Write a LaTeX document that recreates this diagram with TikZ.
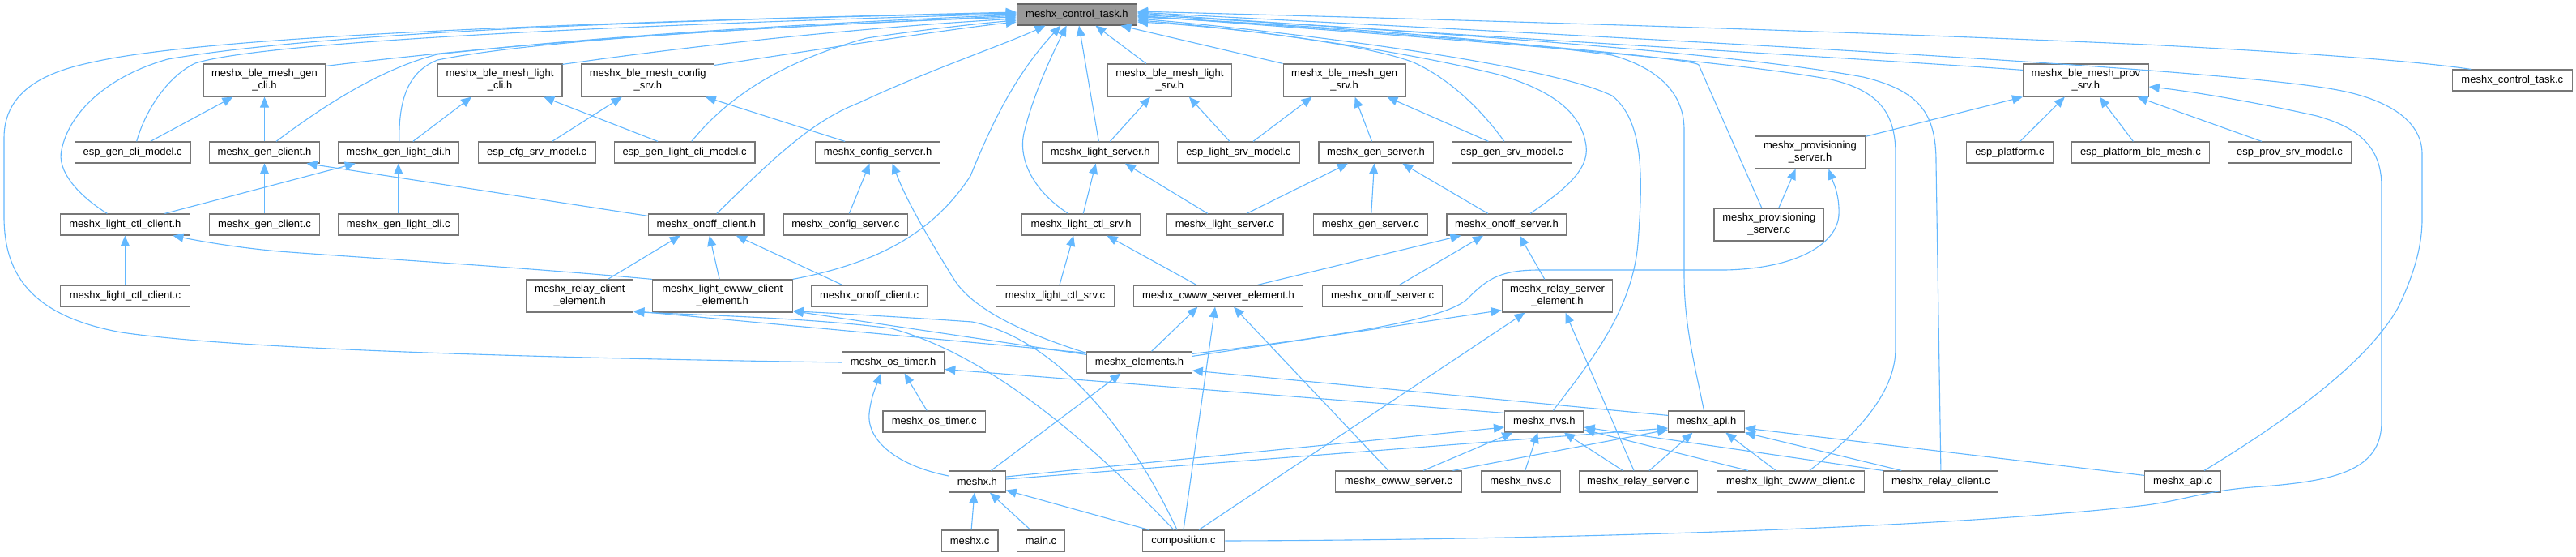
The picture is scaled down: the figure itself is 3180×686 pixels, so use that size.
\documentclass[tikz,border=0pt]{standalone}
\usepackage{fontspec}
\setmainfont{Liberation Sans}
\usetikzlibrary{arrows.meta}
\definecolor{edgeblue}{HTML}{63B8FF}
\definecolor{boxgray}{HTML}{777777}
\definecolor{ctfill}{HTML}{999999}
\tikzset{
  box/.style={draw=boxgray, line width=1.2pt, fill=white, inner sep=0pt, align=center,
    font=\fontsize{13}{15}\selectfont, minimum height=26pt},
  tall/.style={minimum height=40pt},
  dep/.style={draw=edgeblue, line width=1.1pt, -{Triangle[length=13pt,width=11pt]}},
}
\begin{document}
\begin{tikzpicture}[x=1pt,y=-1pt]
\fill[white] (0,0) rectangle (3180,686);
\useasboundingbox (0,0) rectangle (3180,686);
% ---------- nodes ----------
\node[box,fill=ctfill,draw=black!60,minimum width=148pt] (ct) at (1329.4,18) {meshx\_control\_task.h};
\node[box,tall,minimum width=151pt] (bgc) at (326.5,99) {meshx\_ble\_mesh\_gen\\\_cli.h};
\node[box,tall,minimum width=153.6pt] (blc) at (617.1,99) {meshx\_ble\_mesh\_light\\\_cli.h};
\node[box,tall,minimum width=163.6pt] (bcs) at (799.8,99) {meshx\_ble\_mesh\_config\\\_srv.h};
\node[box,tall,minimum width=153.9pt] (bls) at (1443.9,99) {meshx\_ble\_mesh\_light\\\_srv.h};
\node[box,tall,minimum width=150.8pt] (bgs) at (1659.6,99) {meshx\_ble\_mesh\_gen\\\_srv.h};
\node[box,tall,minimum width=154.6pt] (bps) at (2574.8,99) {meshx\_ble\_mesh\_prov\\\_srv.h};
\node[box,minimum width=148.1pt] (ctc) at (3101.3,99) {meshx\_control\_task.c};
% layer 2
\node[box,minimum width=143pt] (egcm) at (163.7,188) {esp\_gen\_cli\_model.c};
\node[box,minimum width=135.7pt] (gch) at (326.5,188) {meshx\_gen\_client.h};
\node[box,minimum width=148.8pt] (glch) at (491.8,188) {meshx\_gen\_light\_cli.h};
\node[box,minimum width=144.6pt] (ecsm) at (662.6,188) {esp\_cfg\_srv\_model.c};
\node[box,minimum width=173.6pt] (eglcm) at (845.1,188) {esp\_gen\_light\_cli\_model.c};
\node[box,minimum width=154pt] (csh) at (1083.6,188) {meshx\_config\_server.h};
\node[box,minimum width=144pt] (lsh) at (1358.3,188) {meshx\_light\_server.h};
\node[box,minimum width=150.9pt] (elsm) at (1529,188) {esp\_light\_srv\_model.c};
\node[box,minimum width=141.2pt] (gsh) at (1698.5,188) {meshx\_gen\_server.h};
\node[box,minimum width=147.7pt] (egsm) at (1866.4,188) {esp\_gen\_srv\_model.c};
\node[box,tall,minimum width=135.4pt] (psh) at (2234.5,188) {meshx\_provisioning\\\_server.h};
\node[box,minimum width=106.8pt] (ep) at (2480.9,188) {esp\_platform.c};
\node[box,minimum width=170pt] (epbm) at (2642.4,188) {esp\_platform\_ble\_mesh.c};
\node[box,minimum width=151.5pt] (epsm) at (2826.5,188) {esp\_prov\_srv\_model.c};
% layer 3
\node[box,minimum width=159.5pt] (lcch) at (154.4,277) {meshx\_light\_ctl\_client.h};
\node[box,minimum width=135.7pt] (gcc) at (326.5,277) {meshx\_gen\_client.c};
\node[box,minimum width=148.8pt] (glcc) at (491.8,277) {meshx\_gen\_light\_cli.c};
\node[box,minimum width=142.2pt] (och) at (871.8,277) {meshx\_onoff\_client.h};
\node[box,minimum width=153.6pt] (csc) at (1043.8,277) {meshx\_config\_server.c};
\node[box,minimum width=146.4pt] (lcsh) at (1334.7,277) {meshx\_light\_ctl\_srv.h};
\node[box,minimum width=144pt] (lsc) at (1511.9,277) {meshx\_light\_server.c};
\node[box,minimum width=140.9pt] (gsc) at (1691.8,277) {meshx\_gen\_server.c};
\node[box,minimum width=147.7pt] (osh) at (1859.9,277) {meshx\_onoff\_server.h};
\node[box,tall,minimum width=135.7pt] (psc) at (2183.8,277) {meshx\_provisioning\\\_server.c};
% layer 4
\node[box,minimum width=159.5pt] (lccc) at (154.4,365) {meshx\_light\_ctl\_client.c};
\node[box,tall,minimum width=131.9pt] (rce) at (715.8,365) {meshx\_relay\_client\\\_element.h};
\node[box,tall,minimum width=172.6pt] (lcwce) at (891.8,365) {meshx\_light\_cwww\_client\\\_element.h};
\node[box,minimum width=142.6pt] (occ) at (1073.1,365) {meshx\_onoff\_client.c};
\node[box,minimum width=146.7pt] (lcsc) at (1302.5,365) {meshx\_light\_ctl\_srv.c};
\node[box,minimum width=209.7pt] (cwse) at (1504,365) {meshx\_cwww\_server\_element.h};
\node[box,minimum width=147.7pt] (osc) at (1706.6,365) {meshx\_onoff\_server.c};
\node[box,tall,minimum width=136.7pt] (rse) at (1922.5,365) {meshx\_relay\_server\\\_element.h};
% layer 5
\node[box,minimum width=126.3pt] (oth) at (1102.6,447) {meshx\_os\_timer.h};
\node[box,minimum width=129.5pt] (elh) at (1406.5,447) {meshx\_elements.h};
% layer 6
\node[box,minimum width=126.4pt] (otc) at (1153.2,520) {meshx\_os\_timer.c};
\node[box,minimum width=97.5pt] (nvsh) at (1906.3,520) {meshx\_nvs.h};
\node[box,minimum width=93.7pt] (apih) at (2106.5,520) {meshx\_api.h};
% layer 7
\node[box,minimum width=69.6pt] (mh) at (1206.4,594) {meshx.h};
\node[box,minimum width=156.4pt] (cwsc) at (1726.4,594) {meshx\_cwww\_server.c};
\node[box,minimum width=97.8pt] (nvsc) at (1877.2,594) {meshx\_nvs.c};
\node[box,minimum width=146.4pt] (rsc) at (2022.4,594) {meshx\_relay\_server.c};
\node[box,minimum width=182.5pt] (lcwc) at (2210.6,594) {meshx\_light\_cwww\_client.c};
\node[box,minimum width=141.9pt] (rcc) at (2395.9,594) {meshx\_relay\_client.c};
\node[box,minimum width=93.7pt] (apic) at (2694.5,594) {meshx\_api.c};
% layer 8
\node[box,minimum width=69.6pt] (mc) at (1197.1,667) {meshx.c};
\node[box,minimum width=59.6pt] (main) at (1285,667) {main.c};
\node[box,minimum width=101.6pt] (comp) at (1461,667) {composition.c};
% ---------- edges: straight ----------
\draw[dep] ([xshift=22pt]egcm.north) -- ([xshift=-39pt]bgc.south);
\draw[dep] (gch.north) -- (bgc.south);
\draw[dep] (gcc.north) -- (gch.south);
\draw[dep] ([yshift=-3pt]och.north west) -- ([xshift=52pt]gch.south);
\draw[dep] ([xshift=18pt]glch.north) -- ([xshift=-35pt]blc.south);
\draw[dep] (glcc.north) -- (glch.south);
\draw[dep] ([xshift=49pt]lcch.north) -- ([xshift=-53pt]glch.south);
\draw[dep] (lccc.north) -- (lcch.south);
\draw[dep] ([xshift=19pt]ecsm.north) -- ([xshift=-32pt]bcs.south);
\draw[dep] ([xshift=-33pt]eglcm.north) -- ([xshift=54pt]blc.south);
\draw[dep] ([xshift=-40.5pt]csh.north) -- ([xshift=71pt]bcs.south);
\draw[dep] ([xshift=4.5pt]csc.north) -- ([xshift=-10pt]csh.south);
\draw[dep] ([yshift=-2pt]elh.north west) .. controls (1260,410) and (1200,380) .. (1178,345) .. controls (1150,300) and (1120,250) .. ([xshift=18pt]csh.south);
\draw[dep] ([xshift=34.6pt]rce.north) -- ([xshift=-32pt]och.south);
\draw[dep] ([xshift=-3.6pt]lcwce.north) -- ([xshift=4pt]och.south);
\draw[dep] ([xshift=-33.4pt]occ.north) -- ([xshift=37pt]och.south);
\draw[dep] (lcwce.north west) .. controls (650,330) and (450,318) .. (344,310) .. controls (290,305) and (250,298) .. ([xshift=59pt]lcch.south);
\draw[dep] ([xshift=12pt]lsh.north) -- ([xshift=-24pt]bls.south);
\draw[dep] ([xshift=-11pt]elsm.north) -- ([xshift=24pt]bls.south);
\draw[dep] ([xshift=18pt]elsm.north) -- ([xshift=-40pt]bgs.south);
\draw[dep] ([xshift=-5pt]gsh.north) -- ([xshift=13pt]bgs.south);
\draw[dep] ([xshift=-29pt]egsm.north) -- ([xshift=52.7pt]bgs.south);
\draw[dep] ([xshift=2.5pt]lcsh.north) -- ([xshift=-5.6pt]lsh.south);
\draw[dep] ([xshift=-21pt]lsc.north) -- ([xshift=30.6pt]lsh.south);
\draw[dep] ([xshift=27pt]lsc.north) -- ([xshift=-34.5pt]gsh.south);
\draw[dep] ([xshift=1pt]gsc.north) -- ([xshift=-2pt]gsh.south);
\draw[dep] ([xshift=-23pt]osh.north) -- ([xshift=32.7pt]gsh.south);
\draw[dep] ([xshift=5.5pt]lcsc.north) -- ([xshift=-9.5pt]lcsh.south);
\draw[dep] ([xshift=-27pt]cwse.north) -- ([xshift=31.8pt]lcsh.south);
\draw[dep] ([xshift=48.5pt]cwse.north) -- ([xshift=-56.4pt]osh.south);
\draw[dep] ([xshift=21pt]osc.north) -- ([xshift=-28.8pt]osh.south);
\draw[dep] ([xshift=-15.7pt]rse.north) -- ([xshift=16pt]osh.south);
\draw[dep] ([xshift=12pt]psc.north) -- ([xshift=-18pt]psh.south);
\draw[dep] ([yshift=-1pt]psh.north east) -- (bps.south west);
\draw[dep] ([xshift=12.8pt]ep.north) -- ([xshift=-26pt]bps.south);
\draw[dep] ([xshift=-9pt]epbm.north) -- ([xshift=17pt]bps.south);
\draw[dep] ([xshift=-34.5pt]epsm.north) -- ([xshift=63.5pt]bps.south);
\draw[dep] ([xshift=-9pt]otc.north) -- ([xshift=14pt]oth.south);
\draw[dep] ([yshift=7pt]mh.west) .. controls (1110,575) and (1070,545) .. (1073,510) .. controls (1075,490) and (1082,475) .. ([xshift=-15pt]oth.south);
\draw[dep] ([yshift=-3pt]nvsh.north west) -- ([yshift=-8.5pt]oth.east);
\draw[dep] ([yshift=-6pt]apih.north west) -- ([yshift=-10pt]elh.east);
\draw[dep] ([xshift=17pt]mh.north) -- ([xshift=-23pt]elh.south);
\draw[dep] ([xshift=2pt]mc.north) -- ([xshift=-3.5pt]mh.south);
\draw[dep] ([xshift=-13pt]main.north) -- ([xshift=15.5pt]mh.south);
\draw[dep] ([xshift=-43pt]comp.north) -- ([yshift=3pt]mh.south east);
\draw[dep] ([yshift=6pt]mh.east) -- ([yshift=-7pt]nvsh.west);
\draw[dep] ([yshift=3pt]mh.east) -- ([yshift=-8pt]apih.west);
\draw[dep] ([xshift=30.6pt]cwsc.north) -- ([xshift=-39pt]nvsh.south);
\draw[dep] ([xshift=67pt]cwsc.north) -- ([yshift=-10pt]apih.west);
\draw[dep] ([xshift=-12.4pt]cwsc.north) -- ([xshift=19pt]cwse.south);
\draw[dep] ([xshift=5.5pt]nvsc.north) -- ([xshift=-8pt]nvsh.south);
\draw[dep] ([xshift=-19pt]rsc.north) -- ([xshift=24.6pt]nvsh.south);
\draw[dep] ([xshift=-5.4pt]rsc.north) -- ([xshift=10pt]rse.south);
\draw[dep] ([xshift=13.6pt]rsc.north) -- ([xshift=-17pt]apih.south);
\draw[dep] ([xshift=-52.7pt]lcwc.north) -- ([yshift=-10pt]nvsh.east);
\draw[dep] ([xshift=-18.3pt]lcwc.north) -- ([xshift=23.8pt]apih.south);
\draw[dep] (rcc.north west) -- ([yshift=-7pt]nvsh.east);
\draw[dep] ([xshift=-48.6pt]rcc.north) -- (apih.south east);
\draw[dep] ([yshift=-6pt]apic.north west) -- ([yshift=-8pt]apih.east);
\draw[dep] (comp.north) -- ([xshift=-4pt]cwse.south);
\draw[dep] ([xshift=15pt]elh.north) -- ([xshift=-25.6pt]cwse.south);
\draw[dep] ([xshift=19pt]comp.north) -- ([xshift=-40pt]rse.south);
\draw[dep] ([yshift=-6pt]elh.north east) -- ([yshift=3pt]rse.south west);
\draw[dep] ([yshift=-3pt]elh.north east) .. controls (1650,415) and (1780,395) .. (1810,370) .. controls (1835,345) and (1850,333) .. (1900,333) -- (2130,333) .. controls (2220,331) and (2268,300) .. (2270,265) .. controls (2271,240) and (2263,225) .. ([xshift=23pt]psh.south);
\draw[dep] ([yshift=-2pt]elh.north west) -- ([yshift=2pt]rce.south east);
\draw[dep] ([yshift=-4pt]elh.north west) -- ([yshift=2pt]lcwce.south east);
\draw[dep] ([xshift=-8pt]comp.north) .. controls (1400,540) and (1310,420) .. (1200,397) .. controls (1100,390) and (1020,386) .. ([yshift=2pt]lcwce.south east);
\draw[dep] ([xshift=-12pt]comp.north) .. controls (1360,560) and (1230,440) .. (1100,405) .. controls (1000,392) and (850,388) .. ([yshift=1pt]rce.south east);
\draw[dep] (comp.east) .. controls (1900,666) and (2400,652) .. (2650,623) .. controls (2700,616) and (2720,606) .. (2780,601) .. controls (2880,594) and (2940,582) .. (2940,520) -- (2940,230) .. controls (2940,180) and (2910,157) .. (2860,143) .. controls (2780,125) and (2700,112) .. ([yshift=-8pt]bps.east);
% ---------- edges into meshx_control_task.h ----------
\draw[dep] (oth.west) .. controls (700,442) and (300,432) .. (150,410) .. controls (40,390) and (5,340) .. (5,267) -- (5,170) .. controls (5,110) and (60,88) .. (113,77) .. controls (250,45) and (700,28) .. ([yshift=3pt]ct.west);
\draw[dep] ([xshift=-22pt]lcch.north) .. controls (95,240) and (70,210) .. (76,185) .. controls (85,140) and (130,95) .. (207,73) .. controls (400,40) and (800,25) .. ([yshift=2pt]ct.west);
\draw[dep] ([xshift=5pt]egcm.north) .. controls (178,140) and (205,95) .. (241,78) .. controls (330,50) and (800,30) .. ([yshift=1pt]ct.west);
\draw[dep] ([xshift=14.5pt]gch.north) .. controls (400,130) and (470,85) .. (540,67) .. controls (800,38) and (1100,25) .. (ct.west);
\draw[dep] ([xshift=1pt]glch.north) .. controls (492,120) and (505,88) .. (540,74) .. controls (700,42) and (1100,28) .. ([yshift=-1pt]ct.west);
\draw[dep] ([yshift=-3pt]bgc.north east) .. controls (700,45) and (1050,28) .. ([yshift=-3pt]ct.west);
\draw[dep] ([yshift=-1pt]blc.north east) .. controls (900,50) and (1100,32) .. ([yshift=-5pt]ct.west);
\draw[dep] ([xshift=8.6pt]eglcm.north) .. controls (890,130) and (950,80) .. (1070,47) .. controls (1150,35) and (1220,28) .. ([yshift=-7pt]ct.west);
\draw[dep] ([yshift=-2pt]bcs.north east) .. controls (1050,55) and (1180,35) .. ([yshift=-9pt]ct.west);
\draw[dep] ([xshift=13pt]och.north) .. controls (950,200) and (1000,150) .. (1060,127) .. controls (1150,85) and (1240,55) .. ([xshift=-39pt]ct.south);
\draw[dep] (lcwce.north east) .. controls (1080,325) and (1150,290) .. (1198,217) .. controls (1225,150) and (1255,90) .. ([xshift=-20pt]ct.south);
\draw[dep] ([xshift=-16pt]lcsh.north) .. controls (1275,235) and (1255,195) .. (1265,160) .. controls (1278,110) and (1300,65) .. ([xshift=-12.8pt]ct.south);
\draw[dep] ([xshift=-2pt]lsh.north) -- ([xshift=2.6pt]ct.south);
\draw[dep] ([xshift=-29pt]bls.north) -- ([xshift=23pt]ct.south);
\draw[dep] (bgs.north west) -- ([xshift=54pt]ct.south);
\draw[dep] ([xshift=-9.5pt]egsm.north) .. controls (1825,130) and (1785,95) .. (1745,77) .. controls (1680,52) and (1500,32) .. ([yshift=-9pt]ct.east);
\draw[dep] ([xshift=29pt]osh.north) .. controls (1930,235) and (1962,210) .. (1958,180) .. controls (1952,135) and (1910,110) .. (1850,92) .. controls (1700,55) and (1500,32) .. ([yshift=-7pt]ct.east);
\draw[dep] ([xshift=11pt]nvsh.north) .. controls (1960,450) and (2015,385) .. (2022,300) .. controls (2028,220) and (2030,150) .. (1990,118) .. controls (1900,75) and (1550,35) .. ([yshift=-5pt]ct.east);
\draw[dep] ([xshift=-3pt]apih.north) .. controls (2092,450) and (2079,400) .. (2079,340) -- (2079,160) .. controls (2079,110) and (2040,82) .. (1990,68) .. controls (1800,42) and (1550,28) .. ([yshift=-3pt]ct.east);
\draw[dep] ([xshift=-9pt]psc.north) -- (2097,80) .. controls (2088,70) and (1700,38) .. ([yshift=-2pt]ct.east);
\draw[dep] ([xshift=23pt]lcwc.north) .. controls (2300,530) and (2340,480) .. (2340,430) -- (2340,190) .. controls (2340,140) and (2320,112) .. (2260,98) .. controls (2100,68) and (1600,35) .. ([yshift=-1pt]ct.east);
\draw[dep] (rcc.north) -- (2390,200) .. controls (2390,140) and (2370,112) .. (2300,95) .. controls (2100,58) and (1600,30) .. (ct.east);
\draw[dep] ([yshift=-8pt]bps.north west) .. controls (2300,72) and (1700,38) .. ([yshift=2pt]ct.east);
\draw[dep] ([xshift=-51pt]ctc.north) .. controls (3000,78) and (2900,68) .. (2650,55) .. controls (2200,35) and (1700,22) .. ([yshift=4pt]ct.east);
\draw[dep] ([xshift=26.5pt]apic.north) .. controls (2820,520) and (2920,450) .. (2960,380) .. controls (2982,335) and (2990,300) .. (2990,270) -- (2990,190) .. controls (2990,150) and (2950,122) .. (2880,110) .. controls (2700,78) and (1700,32) .. ([yshift=3pt]ct.east);
\end{tikzpicture}
\end{document}
